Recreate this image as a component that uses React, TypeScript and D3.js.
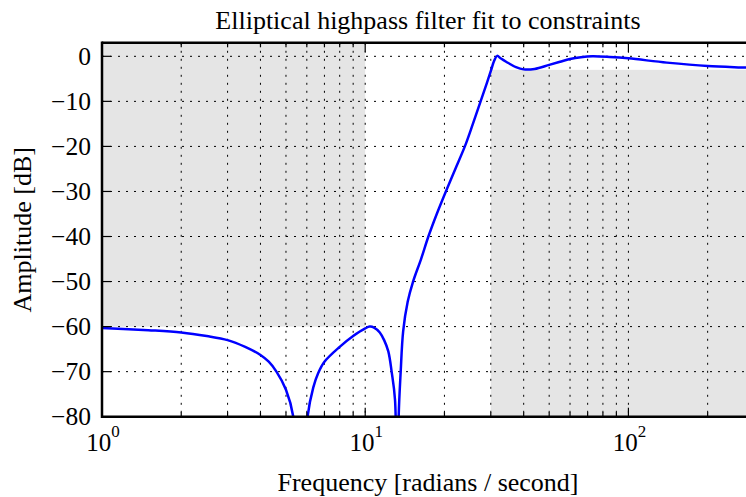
import React from "react";
import * as d3 from "d3";

const freqs = [1, 1.5, 2, 2.5, 3, 3.5, 4, 4.3, 4.6, 5.0, 5.33, 5.65, 6.04, 6.35, 6.63, 7.0, 8.0, 9.0, 10.0, 10.4, 10.8, 11.36, 11.8, 12.24, 12.6, 12.98, 13.2, 13.4, 13.64, 13.94, 14.5, 15.2, 16.3, 17.38, 18.7, 20.25, 22.0, 23.91, 25.65, 27.44, 28.96, 30.1, 30.9, 31.7, 32.8, 34.3, 37.4, 40.0, 44.0, 50.0, 55.0, 60.0, 66.0, 73.0, 85.0, 100, 140, 200, 280, 300];
const ampDb = [-60.3, -60.8, -61.3, -62.1, -63.0, -64.5, -66.3, -67.8, -70.0, -74.0, -80.0, -110, -80.0, -73.5, -70.3, -67.8, -64.5, -62.1, -60.4, -60.0, -60.2, -61.3, -63.0, -65.5, -70.0, -76.3, -110, -80.0, -70.0, -61.0, -54.5, -50.0, -45.0, -40.0, -35.0, -30.0, -25.0, -20.0, -15.0, -10.0, -6.0, -3.0, -1.0, 0.1, -0.5, -1.2, -2.4, -2.9, -2.8, -1.9, -1.2, -0.6, -0.2, 0.0, -0.15, -0.45, -1.4, -2.15, -2.5, -2.6];

const yTicks = [0, -10, -20, -30, -40, -50, -60, -70, -80];
const xMajorExps = [0, 1, 2];
const xMinor = [2, 3, 4, 5, 6, 7, 8, 9, 20, 30, 40, 50, 60, 70, 80, 90, 200, 300];

const stopBand = { fLo: 0.1, fHi: 10, dbLo: -60, dbHi: 1e4 };
const passBand = { fLo: 30, fHi: 1e9, dbLo: -99, dbHi: -3 };

const W = 746, H = 497;
const L = 102, R = 754, T = 42.8, B = 416.7;
const FONT = "'Liberation Serif', 'DejaVu Serif', serif";

export default function App() {
  const x = d3.scaleLog().domain([1, 300]).range([L, R]);
  const y = d3.scaleLinear().domain([-80, 3]).range([B, T]);
  const pts = freqs.map((f, i) => [f, ampDb[i]] as [number, number]);
  const line = d3.line<[number, number]>().x(d => x(d[0])).y(d => y(d[1])).curve(d3.curveCatmullRom.alpha(0.5));
  const clampX = (f: number) => Math.max(L, Math.min(R, x(f)));
  const clampY = (v: number) => Math.max(T, Math.min(B, y(v)));
  const allX = [...xMajorExps.map(e => Math.pow(10, e)), ...xMinor];
  return (
    <svg width={W} height={H} style={{ position: "absolute", left: 0, top: 0 }} xmlns="http://www.w3.org/2000/svg">
      <defs>
        <clipPath id="plot"><rect x={L} y={T} width={R - L} height={B - T} /></clipPath>
      </defs>
      <rect x={0} y={0} width={W} height={H} fill="#fff" />
      <rect x={clampX(stopBand.fLo)} y={clampY(stopBand.dbHi)} width={clampX(stopBand.fHi) - clampX(stopBand.fLo)} height={clampY(stopBand.dbLo) - clampY(stopBand.dbHi)} fill="#e5e5e5" />
      <rect x={clampX(passBand.fLo)} y={clampY(passBand.dbHi)} width={clampX(passBand.fHi) - clampX(passBand.fLo)} height={clampY(passBand.dbLo) - clampY(passBand.dbHi)} fill="#e5e5e5" />
      <g stroke="#000" strokeWidth={1} strokeDasharray="2,6" clipPath="url(#plot)">
        {allX.map((f, i) => (<line key={"gx" + i} x1={x(f)} x2={x(f)} y1={T} y2={B} />))}
        {yTicks.map((v, i) => (<line key={"gy" + i} x1={L} x2={R} y1={y(v)} y2={y(v)} />))}
      </g>
      <path d={line(pts) || ""} fill="none" stroke="#0000ff" strokeWidth={2.5} strokeLinejoin="round" clipPath="url(#plot)" />
      <g stroke="#000" strokeWidth={1.2}>
        {xMajorExps.map(e => (
          <g key={"xm" + e}>
            <line x1={x(Math.pow(10, e))} x2={x(Math.pow(10, e))} y1={B} y2={B - 9} />
            <line x1={x(Math.pow(10, e))} x2={x(Math.pow(10, e))} y1={T} y2={T + 9} />
          </g>
        ))}
        {xMinor.map(f => (
          <g key={"xn" + f}>
            <line x1={x(f)} x2={x(f)} y1={B} y2={B - 4.5} />
            <line x1={x(f)} x2={x(f)} y1={T} y2={T + 4.5} />
          </g>
        ))}
        {yTicks.map(v => (
          <line key={"yt" + v} x1={L} x2={L + 9} y1={y(v)} y2={y(v)} />
        ))}
      </g>
      <g stroke="#000" strokeWidth={2.5} fill="none">
        <line x1={L} x2={L} y1={T - 1.2} y2={B + 1.2} />
        <line x1={L} x2={R} y1={T} y2={T} />
        <line x1={L} x2={R} y1={B} y2={B} />
      </g>
      <g fontFamily={FONT} fontSize={25.5} textAnchor="end" fill="#000">
        {yTicks.map(v => (
          <text key={"yl" + v} x={91} y={y(v) + 8.5}>{v < 0 ? "\u2212" + Math.abs(v) : String(v)}</text>
        ))}
      </g>
      <g fontFamily={FONT} fill="#000" textAnchor="middle">
        {xMajorExps.map(e => (
          <text key={"xl" + e} x={x(Math.pow(10, e)) + 1} y={451} fontSize={25}>
            10<tspan fontSize={17} dy={-14}>{e}</tspan>
          </text>
        ))}
      </g>
      <text x={(L + R) / 2} y={29} fontFamily={FONT} fontSize={26} textAnchor="middle" fill="#000">Elliptical highpass filter fit to constraints</text>
      <text x={(L + R) / 2} y={491} fontFamily={FONT} fontSize={26} textAnchor="middle" fill="#000">Frequency [radians / second]</text>
      <text transform={`translate(31, ${(T + B) / 2}) rotate(-90)`} fontFamily={FONT} fontSize={26} textAnchor="middle" fill="#000">Amplitude [dB]</text>
    </svg>
  );
}
